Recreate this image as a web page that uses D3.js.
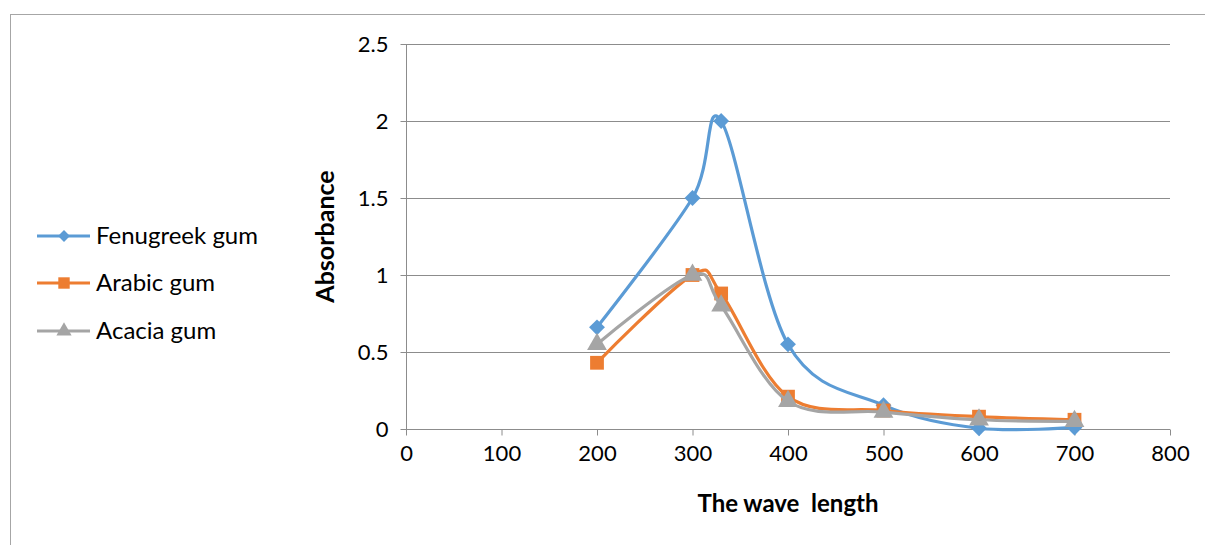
<!DOCTYPE html>
<html><head><meta charset="utf-8">
<script src="https://cdn.jsdelivr.net/npm/d3@7"></script>
<style>body{margin:0;background:#fff}svg{display:block}text{font-family:Lato,"Open Sans",sans-serif;fill:#000}</style>
</head><body><svg id="c" width="1205" height="545"></svg>
<script>
const wavelengths = [200, 300, 330, 400, 500, 600, 700];
const fenugreek = [0.66, 1.5, 2.0, 0.55, 0.155, 0.005, 0.01];
const arabic = [0.43, 1.0, 0.88, 0.21, 0.12, 0.08, 0.06];
const acacia = [0.55, 1.0, 0.8, 0.18, 0.11, 0.06, 0.05];
const xTicks = [0,100,200,300,400,500,600,700,800];
const yTicks = [0,0.5,1,1.5,2,2.5];
const seriesNames = ["Fenugreek gum","Arabic gum","Acacia gum"];
const seriesColors = ["#5B9BD5","#ED7D31","#A5A5A5"];
const seriesSymbols = [d3.symbolDiamond2, d3.symbolSquare, d3.symbolTriangle];

const svg = d3.select("#c");
svg.append("rect").attr("x",10.5).attr("y",14.5).attr("width",1200).attr("height",540)
  .attr("fill","none").attr("stroke","#a6a6a6").attr("stroke-width",1);

const x = d3.scaleLinear().domain([0,800]).range([406,1170]);
const y = d3.scaleLinear().domain([0,2.5]).range([429,44]);

// gridlines
svg.append("g").selectAll("line").data(yTicks.filter(d=>d>0)).join("line")
  .attr("x1",x(0)).attr("x2",x(800)).attr("y1",d=>Math.round(y(d))+0.5).attr("y2",d=>Math.round(y(d))+0.5)
  .attr("stroke","#8c8c8c").attr("stroke-width",1);

const yAxis = svg.append("g").attr("transform",`translate(${x(0)+0.5},0)`)
  .call(d3.axisLeft(y).tickValues(yTicks).tickSize(6).tickPadding(12).tickFormat(d=>String(d)));
const xAxis = svg.append("g").attr("transform",`translate(0,${y(0)+0.5})`)
  .call(d3.axisBottom(x).tickValues(xTicks).tickSize(6).tickPadding(10).tickFormat(d=>String(d)));
[yAxis,xAxis].forEach(a=>{
  a.selectAll("path,line").attr("stroke","#8c8c8c").attr("stroke-width",1);
  a.selectAll("text").style("font-size","22px").style("font-family","Lato,sans-serif");
});
xAxis.select(".domain").attr("d",`M${x(0)},0H${x(800)}`);
yAxis.select(".domain").attr("d",`M0,${y(0)}V${y(2.5)}`);

svg.append("text").attr("x",x(400)).attr("y",512).attr("text-anchor","middle")
  .style("font-size","24px").style("font-weight","bold").style("white-space","pre").text("The wave  length");
svg.append("text").attr("transform",`translate(334,${(y(0)+y(2.5))/2}) rotate(-90)`).attr("text-anchor","middle")
  .style("font-size","25px").style("font-weight","bold").text("Absorbance");

const allSeries = [fenugreek, arabic, acacia];
const line = d3.line().x(d=>x(d[0])).y(d=>y(d[1])).curve(d3.curveCatmullRom.alpha(0));
const symSizes = [160, 190, 170];
allSeries.forEach((vals,i)=>{
  const pts = wavelengths.map((w,j)=>[w,vals[j]]);
  const g = svg.append("g");
  g.append("path").attr("d",line(pts)).attr("fill","none").attr("stroke",seriesColors[i])
    .attr("stroke-width",3.2).attr("stroke-linejoin","round");
  g.selectAll("path.m").data(pts).join("path").attr("class","m")
    .attr("transform",d=>`translate(${x(d[0])},${y(d[1])})`)
    .attr("d",d3.symbol(seriesSymbols[i],symSizes[i])).attr("fill",seriesColors[i]);
});

// legend
const legY = [236,283,331];
seriesNames.forEach((n,i)=>{
  const g = svg.append("g").attr("transform",`translate(0,${legY[i]})`);
  g.append("line").attr("x1",37).attr("x2",90).attr("y1",0).attr("y2",0)
    .attr("stroke",seriesColors[i]).attr("stroke-width",3);
  g.append("path").attr("transform","translate(64,0)").attr("d",d3.symbol(seriesSymbols[i],[90,130,100][i])())
    .attr("fill",seriesColors[i]);
  g.append("text").attr("x",96).attr("y",8).style("font-size","24px").text(n);
});
</script></body></html>
